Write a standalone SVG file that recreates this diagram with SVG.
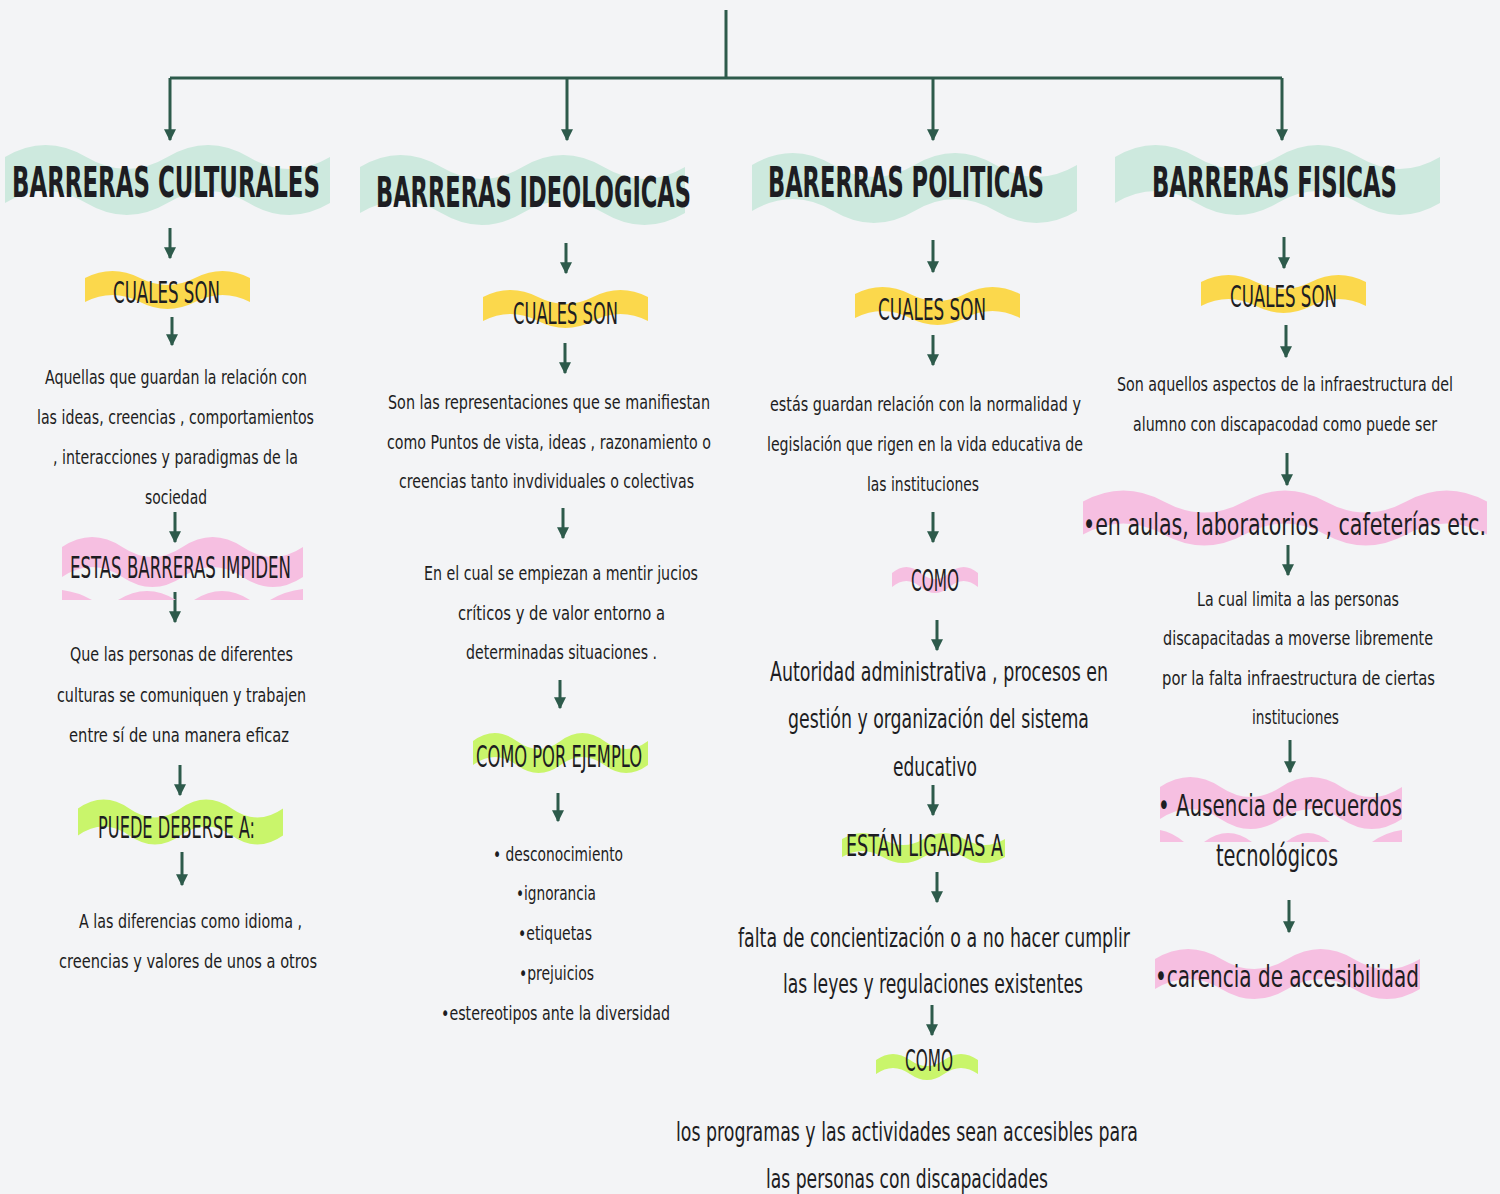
<svg xmlns="http://www.w3.org/2000/svg" xmlns:xlink="http://www.w3.org/1999/xlink" width="1500" height="1194" viewBox="0 0 1500 1194">
<style>
.t{font-family:"Liberation Sans Narrow","DejaVu Sans Condensed","DejaVu Sans",sans-serif;fill:#1d1d22}
.ttl{font-size:42px;font-weight:bold}
.lbl{font-size:31px}
.b{font-size:20px}
.lg{font-size:26px}
.xl{font-size:31px}
.ln{stroke:#2d5a4b;stroke-width:3;fill:none}
.mint{fill:#cde9de}
.yel{fill:#fbd84c}
.pink{fill:#f6bfe1}
.lime{fill:#c9f56b}
</style>
<defs>
<marker id="ah" viewBox="0 0 10 10" refX="9" refY="5" markerWidth="12" markerHeight="12" markerUnits="userSpaceOnUse" orient="auto">
<path d="M0,0 L10,5 L0,10 z" fill="#2d5a4b"/>
</marker>
<path id="mintB" d="M0,-23 q40.625,-24 81.25,0 t81.25,0 t81.25,0 t81.25,0 V23 q-40.625,24 -81.25,0 t-81.25,0 t-81.25,0 t-81.25,0 Z"/>
<path id="yelB" d="M0,-12 q27.5,-14 55,0 t55,0 t55,0 V12 q27.5,-14 -55,0 Z" />
<path id="yelB2" d="M0,-12 q27.5,-14 55,0 t55,0 t55,0 V12 q-27.5,-14 -55,0 t-55,0 t-55,0 Z"/>
</defs>
<rect width="1500" height="1194" fill="#f3f4f6"/>

<g id="connectors">
<path class="ln" d="M726,10 V78"/>
<path class="ln" d="M170,78 H1282"/>
<path class="ln" d="M170,78 V140" marker-end="url(#ah)"/>
<path class="ln" d="M567,78 V140" marker-end="url(#ah)"/>
<path class="ln" d="M933,78 V140" marker-end="url(#ah)"/>
<path class="ln" d="M1282,78 V140" marker-end="url(#ah)"/>

<path class="ln" d="M170,228 V258" marker-end="url(#ah)"/>
<path class="ln" d="M172,317 V345" marker-end="url(#ah)"/>
<path class="ln" d="M175,512 V542" marker-end="url(#ah)"/>
<path class="ln" d="M175,592 V622" marker-end="url(#ah)"/>
<path class="ln" d="M180,765 V795" marker-end="url(#ah)"/>
<path class="ln" d="M182,852 V885" marker-end="url(#ah)"/>

<path class="ln" d="M566,243 V273" marker-end="url(#ah)"/>
<path class="ln" d="M565,343 V373" marker-end="url(#ah)"/>
<path class="ln" d="M563,508 V538" marker-end="url(#ah)"/>
<path class="ln" d="M560,680 V708" marker-end="url(#ah)"/>
<path class="ln" d="M558,793 V821" marker-end="url(#ah)"/>

<path class="ln" d="M933,240 V272" marker-end="url(#ah)"/>
<path class="ln" d="M933,335 V365" marker-end="url(#ah)"/>
<path class="ln" d="M933,512 V542" marker-end="url(#ah)"/>
<path class="ln" d="M937,620 V650" marker-end="url(#ah)"/>
<path class="ln" d="M933,785 V815" marker-end="url(#ah)"/>
<path class="ln" d="M937,872 V902" marker-end="url(#ah)"/>
<path class="ln" d="M932,1005 V1035" marker-end="url(#ah)"/>

<path class="ln" d="M1284,237 V268" marker-end="url(#ah)"/>
<path class="ln" d="M1286,325 V357" marker-end="url(#ah)"/>
<path class="ln" d="M1287,453 V485" marker-end="url(#ah)"/>
<path class="ln" d="M1288,545 V575" marker-end="url(#ah)"/>
<path class="ln" d="M1290,740 V772" marker-end="url(#ah)"/>
<path class="ln" d="M1289,900 V932" marker-end="url(#ah)"/>
</g>

<!-- Column 1 -->
<g id="barreras-culturales">
<use xlink:href="#mintB" href="#mintB" x="5" y="180" class="mint"/>
<text class="t ttl" x="12" y="197" textLength="308" lengthAdjust="spacingAndGlyphs">BARRERAS CULTURALES</text>
</g>
<g id="c1-cuales">
<use href="#yelB2" xlink:href="#yelB2" x="85" y="290" class="yel"/>
<text class="t lbl" x="113" y="303" textLength="107" lengthAdjust="spacingAndGlyphs">CUALES SON</text>
</g>
<g id="c1-def">
<text class="t b" x="45" y="384" textLength="262" lengthAdjust="spacingAndGlyphs">Aquellas que guardan la relación con</text>
<text class="t b" x="37" y="424" textLength="277" lengthAdjust="spacingAndGlyphs">las ideas, creencias , comportamientos</text>
<text class="t b" x="53" y="464" textLength="245" lengthAdjust="spacingAndGlyphs">, interacciones y paradigmas de la</text>
<text class="t b" x="145" y="504" textLength="62" lengthAdjust="spacingAndGlyphs">sociedad</text>
</g>
<g id="c1-impiden">
<path class="pink" d="M62,547 q30.125,-20 60.25,0 t60.25,0 t60.25,0 t60.25,0 V577 q-30.125,20 -60.25,0 t-60.25,0 t-60.25,0 t-60.25,0 Z"/>
<path class="pink" d="M62,590 Q78,592 92,600 L62,600 Z M118,600 Q147,582 176,600 Z M194,600 Q222,582 250,600 Z M270,600 Q285,591 303,589 L303,600 Z"/>
<text class="t lbl" x="70" y="578" textLength="221" lengthAdjust="spacingAndGlyphs">ESTAS BARRERAS IMPIDEN</text>
</g>
<g id="c1-que">
<text class="t b" x="70" y="661" textLength="223" lengthAdjust="spacingAndGlyphs">Que las personas de diferentes</text>
<text class="t b" x="57" y="702" textLength="249" lengthAdjust="spacingAndGlyphs">culturas se comuniquen y trabajen</text>
<text class="t b" x="69" y="742" textLength="220" lengthAdjust="spacingAndGlyphs">entre sí de una manera eficaz</text>
</g>
<g id="c1-puede">
<path class="lime" d="M78,808.5 q25.625,-18 51.25,0 t51.25,0 t51.25,0 t51.25,0 V835.5 q-25.625,18 -51.25,0 t-51.25,0 t-51.25,0 t-51.25,0 Z"/>
<text class="t lbl" x="98" y="838" textLength="157" lengthAdjust="spacingAndGlyphs">PUEDE DEBERSE A:</text>
</g>
<g id="c1-dif">
<text class="t b" x="79" y="928" textLength="223" lengthAdjust="spacingAndGlyphs">A las diferencias como idioma ,</text>
<text class="t b" x="59" y="968" textLength="258" lengthAdjust="spacingAndGlyphs">creencias y valores de unos a otros</text>
</g>

<!-- Column 2 -->
<g id="barreras-ideologicas">
<use href="#mintB" xlink:href="#mintB" x="360" y="190" class="mint"/>
<text class="t ttl" x="376" y="207" textLength="315" lengthAdjust="spacingAndGlyphs">BARRERAS IDEOLOGICAS</text>
</g>
<g id="c2-cuales">
<use href="#yelB2" xlink:href="#yelB2" x="483" y="309" class="yel"/>
<text class="t lbl" x="513" y="324" textLength="105" lengthAdjust="spacingAndGlyphs">CUALES SON</text>
</g>
<g id="c2-def">
<text class="t b" x="388" y="409" textLength="322" lengthAdjust="spacingAndGlyphs">Son las representaciones que se manifiestan</text>
<text class="t b" x="387" y="449" textLength="324" lengthAdjust="spacingAndGlyphs">como Puntos de vista, ideas , razonamiento o</text>
<text class="t b" x="399" y="488" textLength="295" lengthAdjust="spacingAndGlyphs">creencias tanto invdividuales o colectivas</text>
</g>
<g id="c2-juicios">
<text class="t b" x="424" y="580" textLength="274" lengthAdjust="spacingAndGlyphs">En el cual se empiezan a mentir jucios</text>
<text class="t b" x="458" y="620" textLength="207" lengthAdjust="spacingAndGlyphs">críticos y de valor entorno a</text>
<text class="t b" x="466" y="659" textLength="191" lengthAdjust="spacingAndGlyphs">determinadas situaciones .</text>
</g>
<g id="c2-ejemplo">
<path class="lime" d="M473,741 q21.875,-16 43.75,0 t43.75,0 t43.75,0 t43.75,0 V765 q-21.875,16 -43.75,0 t-43.75,0 t-43.75,0 t-43.75,0 Z"/>
<text class="t lbl" x="476" y="767" textLength="166" lengthAdjust="spacingAndGlyphs">COMO POR EJEMPLO</text>
</g>
<g id="c2-lista">
<text class="t b" x="493" y="861" textLength="130" lengthAdjust="spacingAndGlyphs">• desconocimiento</text>
<text class="t b" x="516" y="900" textLength="80" lengthAdjust="spacingAndGlyphs">•ignorancia</text>
<text class="t b" x="518" y="940" textLength="74" lengthAdjust="spacingAndGlyphs">•etiquetas</text>
<text class="t b" x="519" y="980" textLength="75" lengthAdjust="spacingAndGlyphs">•prejuicios</text>
<text class="t b" x="441" y="1020" textLength="229" lengthAdjust="spacingAndGlyphs">•estereotipos ante la diversidad</text>
</g>

<!-- Column 3 -->
<g id="barreras-politicas">
<use href="#mintB" xlink:href="#mintB" x="752" y="188" class="mint"/>
<text class="t ttl" x="768" y="197" textLength="276" lengthAdjust="spacingAndGlyphs">BARERRAS POLITICAS</text>
</g>
<g id="c3-cuales">
<use href="#yelB2" xlink:href="#yelB2" x="855" y="306" class="yel"/>
<text class="t lbl" x="878" y="320" textLength="108" lengthAdjust="spacingAndGlyphs">CUALES SON</text>
</g>
<g id="c3-def">
<text class="t b" x="770" y="411" textLength="311" lengthAdjust="spacingAndGlyphs">estás guardan relación con la normalidad y</text>
<text class="t b" x="767" y="451" textLength="316" lengthAdjust="spacingAndGlyphs">legislación que rigen en la vida educativa de</text>
<text class="t b" x="867" y="491" textLength="112" lengthAdjust="spacingAndGlyphs">las instituciones</text>
</g>
<g id="c3-como1">
<path class="pink" d="M892,573 q14.333,-12 28.667,0 t28.667,0 t28.667,0 V587 q-14.333,-12 -28.667,0 t-28.667,0 t-28.667,0 Z"/>
<text class="t lbl" x="911" y="591" textLength="48" lengthAdjust="spacingAndGlyphs">COMO</text>
</g>
<g id="c3-autoridad">
<text class="t lg" x="770" y="681" textLength="338" lengthAdjust="spacingAndGlyphs">Autoridad administrativa , procesos en</text>
<text class="t lg" x="788" y="728" textLength="301" lengthAdjust="spacingAndGlyphs">gestión y organización del sistema</text>
<text class="t lg" x="893" y="776" textLength="84" lengthAdjust="spacingAndGlyphs">educativo</text>
</g>
<g id="c3-ligadas">
<path class="lime" d="M842,839 q20.375,-12 40.75,0 t40.75,0 t40.75,0 t40.75,0 V857 q-20.375,12 -40.75,0 t-40.75,0 t-40.75,0 t-40.75,0 Z"/>
<text class="t lbl" x="846" y="856" textLength="157" lengthAdjust="spacingAndGlyphs">ESTÁN LIGADAS A</text>
</g>
<g id="c3-falta">
<text class="t lg" x="738" y="947" textLength="392" lengthAdjust="spacingAndGlyphs">falta de concientización o a no hacer cumplir</text>
<text class="t lg" x="783" y="993" textLength="300" lengthAdjust="spacingAndGlyphs">las leyes y regulaciones existentes</text>
</g>
<g id="c3-como2">
<path class="lime" d="M876,1060 q17,-12 34,0 t34,0 t34,0 V1074 q-17,-12 -34,0 t-34,0 t-34,0 Z"/>
<text class="t lbl" x="905" y="1071" textLength="48" lengthAdjust="spacingAndGlyphs">COMO</text>
</g>
<g id="c3-programas">
<text class="t lg" x="676" y="1141" textLength="462" lengthAdjust="spacingAndGlyphs">los programas y las actividades sean accesibles para</text>
<text class="t lg" x="766" y="1188" textLength="282" lengthAdjust="spacingAndGlyphs">las personas con discapacidades</text>
</g>

<!-- Column 4 -->
<g id="barreras-fisicas">
<use href="#mintB" xlink:href="#mintB" x="1115" y="180" class="mint"/>
<text class="t ttl" x="1152" y="197" textLength="245" lengthAdjust="spacingAndGlyphs">BARRERAS FISICAS</text>
</g>
<g id="c4-cuales">
<use href="#yelB2" xlink:href="#yelB2" x="1201" y="294" class="yel"/>
<text class="t lbl" x="1230" y="307" textLength="107" lengthAdjust="spacingAndGlyphs">CUALES SON</text>
</g>
<g id="c4-def">
<text class="t b" x="1117" y="391" textLength="336" lengthAdjust="spacingAndGlyphs">Son aquellos aspectos de la infraestructura del</text>
<text class="t b" x="1133" y="431" textLength="304" lengthAdjust="spacingAndGlyphs">alumno con discapacodad como puede ser</text>
</g>
<g id="c4-aulas">
<path class="pink" d="M1083,501.5 q40.4,-22 80.8,0 t80.8,0 t80.8,0 t80.8,0 t80.8,0 V534.5 q-40.4,-22 -80.8,0 t-80.8,0 t-80.8,0 t-80.8,0 t-80.8,0 Z"/>
<text class="t xl" x="1083" y="535" textLength="403" lengthAdjust="spacingAndGlyphs">•en aulas, laboratorios , cafeterías etc.</text>
</g>
<g id="c4-limita">
<text class="t b" x="1197" y="606" textLength="202" lengthAdjust="spacingAndGlyphs">La cual limita a las personas</text>
<text class="t b" x="1163" y="645" textLength="270" lengthAdjust="spacingAndGlyphs">discapacitadas a moverse libremente</text>
<text class="t b" x="1162" y="685" textLength="273" lengthAdjust="spacingAndGlyphs">por la falta infraestructura de ciertas</text>
<text class="t b" x="1252" y="724" textLength="87" lengthAdjust="spacingAndGlyphs">instituciones</text>
</g>
<g id="c4-ausencia">
<path class="pink" d="M1160,787 q30.25,-20 60.5,0 t60.5,0 t60.5,0 t60.5,0 V819 q-30.25,20 -60.5,0 t-60.5,0 t-60.5,0 t-60.5,0 Z"/>
<path class="pink" d="M1160,830 Q1172,832 1184,842 L1160,842 Z M1204,842 Q1228,824 1252,842 Z M1286,842 Q1308,824 1330,842 Z M1372,842 Q1386,832 1402,830 L1402,842 Z"/>
<text class="t xl" x="1158" y="816" textLength="244" lengthAdjust="spacingAndGlyphs">• Ausencia de recuerdos</text>
<text class="t xl" x="1216" y="866" textLength="122" lengthAdjust="spacingAndGlyphs">tecnológicos</text>
</g>
<g id="c4-carencia">
<path class="pink" d="M1155,959 q33.125,-20 66.25,0 t66.25,0 t66.25,0 t66.25,0 V989 q-33.125,20 -66.25,0 t-66.25,0 t-66.25,0 t-66.25,0 Z"/>
<text class="t xl" x="1155" y="987" textLength="264" lengthAdjust="spacingAndGlyphs">•carencia de accesibilidad</text>
</g>
</svg>
